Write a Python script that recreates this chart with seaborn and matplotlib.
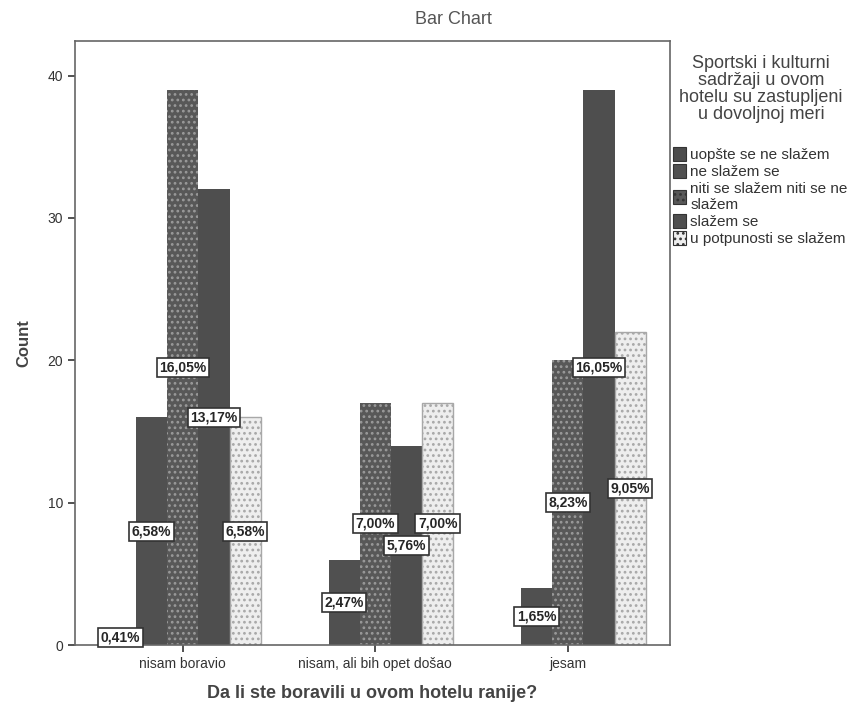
import matplotlib
matplotlib.use("Agg")
import matplotlib.pyplot as plt
import seaborn as sns
import pandas as pd
import numpy as np

groups = ["nisam boravio", "nisam, ali bih opet došao", "jesam"]
answers = ["uopšte se ne slažem", "ne slažem se",
           "niti se slažem niti se ne\nslažem", "slažem se",
           "u potpunosti se slažem"]
counts = {
    "uopšte se ne slažem": [1, 0, 0],
    "ne slažem se": [16, 6, 4],
    "niti se slažem niti se ne\nslažem": [39, 17, 20],
    "slažem se": [32, 14, 39],
    "u potpunosti se slažem": [16, 17, 22],
}
legend_title = "Sportski i kulturni\nsadržaji u ovom\nhotelu su zastupljeni\nu dovoljnoj meri"

rows = []
for a in answers:
    for g, c in zip(groups, counts[a]):
        rows.append({"group": g, "answer": a, "count": c})
df = pd.DataFrame(rows)
total = df["count"].sum()

sns.set_style("white")
plt.rcParams["font.family"] = ["Liberation Sans", "DejaVu Sans"]
plt.rcParams["hatch.linewidth"] = 1.2

fig = plt.figure(figsize=(8.56, 7.06), dpi=100)
ax = fig.add_axes([0.0876, 0.0864, 0.695, 0.855])

face = ["#4c4c4c", "#505050", "#585858", "#4e4e4e", "#eeeeee"]
hatchc = ["#4c4c4c", "#505050", "#9a9a9a", "#4e4e4e", "#a8a8a8"]
hatches = [None, None, "...", None, "..."]

sns.barplot(data=df, x="group", y="count", hue="answer", order=groups,
            hue_order=answers, palette=face, width=0.81, ax=ax,
            saturation=1, legend=True)

for i, cont in enumerate(ax.containers):
    for bar in cont:
        bar.set_facecolor(face[i])
        bar.set_edgecolor(hatchc[i])
        bar.set_linewidth(1.0 if i == 4 else 0.0)
        if hatches[i]:
            bar.set_hatch(hatches[i])
        h = bar.get_height()
        if h > 0:
            pct = f"{h / total * 100:.2f}%".replace(".", ",")
            ax.text(bar.get_x() + bar.get_width() / 2, max(h / 2, 0.55), pct,
                    ha="center", va="center", fontsize=10, fontweight="bold",
                    bbox=dict(boxstyle="square,pad=0.18", fc="white",
                              ec="#333333", lw=1.2), zorder=5)

ax.set_xlim(-0.56, 2.53)
ax.set_ylim(0, 42.4)
ax.set_yticks([0, 10, 20, 30, 40])
ax.tick_params(axis="both", labelsize=10, length=5, width=1.2,
               colors="#333333", direction="out", left=True, bottom=True)
for s in ax.spines.values():
    s.set_color("#666666")
    s.set_linewidth(1.2)
ax.set_xlabel("Da li ste boravili u ovom hotelu ranije?", fontsize=13,
              fontweight="bold", color="#444444", labelpad=10)
ax.set_ylabel("Count", fontsize=12, fontweight="bold", color="#444444",
              labelpad=12)
fig.text(0.53, 0.972, "Bar Chart", ha="center", va="center", fontsize=13,
         color="#555555")

handles, labels = ax.get_legend_handles_labels()
ax.get_legend().remove()
fig.text(0.889, 0.922, legend_title, ha="center", va="top", fontsize=13,
         color="#444444", multialignment="center", linespacing=1.0)
leg = fig.legend(handles, labels, loc="upper left",
                 bbox_to_anchor=(0.786, 0.792), frameon=False,
                 fontsize=11, handlelength=0.85, handleheight=1.0,
                 handletextpad=0.3, labelspacing=0.15, borderaxespad=0,
                 borderpad=0)
for t in leg.get_texts():
    t.set_color("#333333")
for i, hnd in enumerate(leg.legend_handles):
    hnd.set_facecolor(face[i])
    hnd.set_edgecolor("#333333")
    hnd.set_linewidth(0.8)
    if hatches[i]:
        hnd.set_hatch(hatches[i])

fig.savefig("out.png", dpi=100)
